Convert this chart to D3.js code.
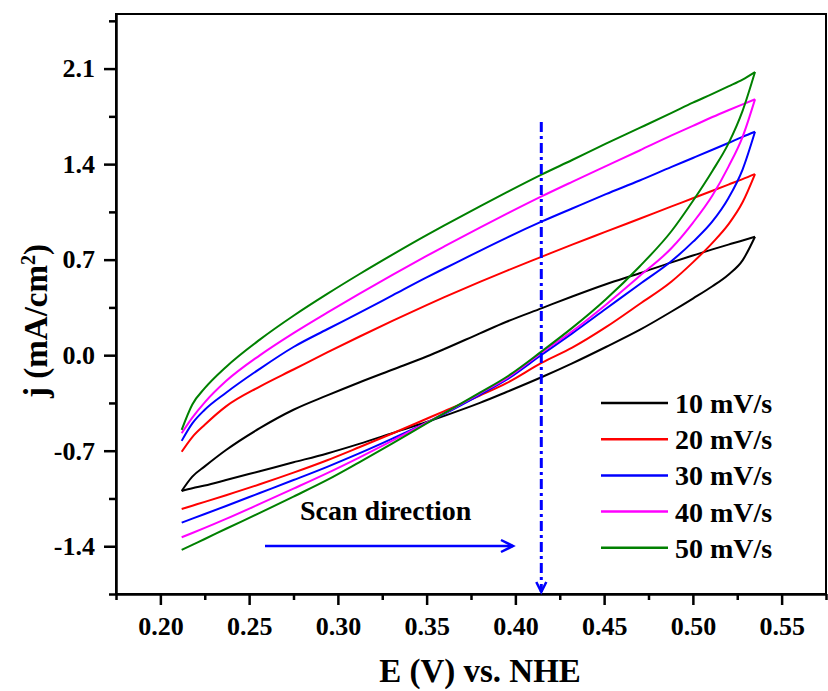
<!DOCTYPE html>
<html>
<head>
<meta charset="utf-8">
<script src="https://cdn.jsdelivr.net/npm/d3@7"></script>
<style>
  body { margin: 0; background: #fff; }
  text { font-family: "Liberation Serif", "Times New Roman", serif; font-weight: bold; }
</style>
</head>
<body>
<script>
// potential grid (V vs NHE) shared by both branches of every loop
const E = [0.212, 0.218, 0.225, 0.237, 0.256, 0.275, 0.294, 0.312, 0.331, 0.35, 0.36,
           0.38, 0.395, 0.415, 0.432, 0.451, 0.47, 0.488, 0.5, 0.511, 0.52, 0.528, 0.535];

// lower (steep) branch
const lower10 = [-0.995, -0.975, -0.955, -0.915, -0.85, -0.785, -0.72, -0.65, -0.57, -0.49, -0.445,
                 -0.35, -0.27, -0.16, -0.06, 0.06, 0.185, 0.32, 0.415, 0.505, 0.59, 0.695, 0.868];
const lower20 = [-1.127, -1.103, -1.075, -1.026, -0.946, -0.861, -0.77, -0.675, -0.572, -0.466, -0.41,
                 -0.296, -0.205, -0.055, 0.055, 0.205, 0.375, 0.54, 0.68, 0.823, 0.958, 1.12, 1.327];
const lower30 = [-1.227, -1.198, -1.164, -1.105, -1.01, -0.915, -0.818, -0.72, -0.61, -0.495, -0.43,
                 -0.29, -0.18, 0.005, 0.16, 0.34, 0.52, 0.69, 0.83, 0.98, 1.15, 1.36, 1.637];
const lower40 = [-1.334, -1.303, -1.266, -1.20, -1.09, -0.978, -0.864, -0.75, -0.625, -0.495, -0.425,
                 -0.28, -0.17, 0.02, 0.175, 0.37, 0.58, 0.785, 0.97, 1.17, 1.38, 1.60, 1.875];
const lower50 = [-1.427, -1.39, -1.347, -1.272, -1.156, -1.036, -0.914, -0.785, -0.645, -0.50, -0.425,
                 -0.275, -0.16, 0.03, 0.20, 0.41, 0.65, 0.91, 1.13, 1.35, 1.55, 1.79, 2.075];

// upper (almost linear) branch
const upper10 = [-0.995, -0.89, -0.815, -0.695, -0.535, -0.40, -0.295, -0.20, -0.105, -0.01, 0.045,
                 0.16, 0.245, 0.345, 0.43, 0.52, 0.60, 0.68, 0.73, 0.775, 0.81, 0.84, 0.868];
const upper20 = [-0.708, -0.60, -0.51, -0.375, -0.23, -0.105, 0.02, 0.135, 0.253, 0.367, 0.425,
                 0.537, 0.618, 0.722, 0.81, 0.905, 1.0, 1.09, 1.15, 1.205, 1.25, 1.29, 1.327];
const upper30 = [-0.628, -0.50, -0.40, -0.275, -0.10, 0.06, 0.19, 0.31, 0.44, 0.57, 0.635,
                 0.765, 0.86, 0.98, 1.075, 1.18, 1.28, 1.38, 1.445, 1.505, 1.555, 1.60, 1.637];
const upper40 = [-0.572, -0.458, -0.346, -0.19, -0.001, 0.162, 0.312, 0.449, 0.59, 0.727, 0.797,
                 0.935, 1.035, 1.165, 1.27, 1.385, 1.50, 1.61, 1.68, 1.745, 1.795, 1.838, 1.875];
const upper50 = [-0.547, -0.361, -0.242, -0.086, 0.114, 0.289, 0.449, 0.593, 0.739, 0.88, 0.951,
                 1.091, 1.193, 1.325, 1.43, 1.55, 1.665, 1.775, 1.85, 1.915, 1.97, 2.02, 2.075];

const rates = ["10 mV/s", "20 mV/s", "30 mV/s", "40 mV/s", "50 mV/s"];
const colors = ["#000000", "#ff0000", "#0000ff", "#ff00ff", "#008000"];
const lowers = [lower10, lower20, lower30, lower40, lower50];
const uppers = [upper10, upper20, upper30, upper40, upper50];

const xTicks = [0.20, 0.25, 0.30, 0.35, 0.40, 0.45, 0.50, 0.55];
const xTickLabels = ["0.20", "0.25", "0.30", "0.35", "0.40", "0.45", "0.50", "0.55"];
const xMinor = [0.175, 0.225, 0.275, 0.325, 0.375, 0.425, 0.475, 0.525, 0.575];
const yTicks = [-1.4, -0.7, 0.0, 0.7, 1.4, 2.1];
const yTickLabels = ["-1.4", "-0.7", "0.0", "0.7", "1.4", "2.1"];
const yMinor = [-1.75, -1.05, -0.35, 0.35, 1.05, 1.75, 2.45];

const markerE = 0.4146;   // dash-dot marker

const W = 828, H = 691;
const svg = d3.select("body").append("svg").attr("width", W).attr("height", H);

const x = d3.scaleLinear().domain([0.175, 0.575]).range([116, 826]);
const y = d3.scaleLinear().domain([-1.75, 2.5]).range([594, 14]);

// frame
svg.append("rect")
  .attr("x", x.range()[0]).attr("y", y.range()[1])
  .attr("width", x.range()[1] - x.range()[0]).attr("height", y.range()[0] - y.range()[1])
  .attr("fill", "none").attr("stroke", "#000").attr("stroke-width", 2);

// axes (ticks outward)
function styleAxis(g) {
  g.select(".domain").attr("stroke-width", 2.5);
  g.selectAll(".tick line").attr("stroke-width", 2.5);
  g.selectAll("text").attr("fill", "#000").style("font-size", "26px")
    .style("font-family", "'Liberation Serif', serif").style("font-weight", "bold");
}
const xAxis = svg.append("g").attr("transform", `translate(0,${y.range()[0]})`)
  .call(d3.axisBottom(x).tickValues(xTicks).tickSize(11).tickPadding(12)
        .tickFormat((d, i) => xTickLabels[i]).tickSizeOuter(0));
styleAxis(xAxis);
svg.append("g").attr("transform", `translate(0,${y.range()[0]})`)
  .call(d3.axisBottom(x).tickValues(xMinor).tickSize(6).tickFormat("").tickSizeOuter(0))
  .call(g => { g.select(".domain").remove(); g.selectAll("line").attr("stroke-width", 2.5); });

const yAxis = svg.append("g").attr("transform", `translate(${x.range()[0]},0)`)
  .call(d3.axisLeft(y).tickValues(yTicks).tickSize(12).tickPadding(9)
        .tickFormat((d, i) => yTickLabels[i]).tickSizeOuter(0));
styleAxis(yAxis);
svg.append("g").attr("transform", `translate(${x.range()[0]},0)`)
  .call(d3.axisLeft(y).tickValues(yMinor).tickSize(7).tickFormat("").tickSizeOuter(0))
  .call(g => { g.select(".domain").remove(); g.selectAll("line").attr("stroke-width", 2.5); });

// CV loops
const line = d3.line().x(d => x(d[0])).y(d => y(d[1])).curve(d3.curveMonotoneX);
rates.forEach((r, i) => {
  [lowers[i], uppers[i]].forEach(branch => {
    svg.append("path")
      .attr("d", line(E.map((e, k) => [e, branch[k]])))
      .attr("fill", "none").attr("stroke", colors[i]).attr("stroke-width", 2);
  });
});

// dash-dot marker with arrow pointing down
const mx = x(markerE);
svg.append("line")
  .attr("x1", mx).attr("x2", mx).attr("y1", 122).attr("y2", y.range()[0] - 2)
  .attr("stroke", "#0000ff").attr("stroke-width", 3).attr("stroke-dasharray", "10,4,3,4");
svg.append("path")
  .attr("d", `M${mx - 5},${y.range()[0] - 12}L${mx},${y.range()[0] - 2}L${mx + 5},${y.range()[0] - 12}`)
  .attr("fill", "none").attr("stroke", "#0000ff").attr("stroke-width", 2.5);

// scan direction arrow
const ay = 546, ax1 = 265, ax2 = 513;
svg.append("line").attr("x1", ax1).attr("x2", ax2).attr("y1", ay).attr("y2", ay)
  .attr("stroke", "#0000ff").attr("stroke-width", 2.5);
svg.append("path")
  .attr("d", `M${ax2 - 12},${ay - 6}L${ax2},${ay}L${ax2 - 12},${ay + 6}`)
  .attr("fill", "none").attr("stroke", "#0000ff").attr("stroke-width", 2.5);
svg.append("text").attr("x", 300).attr("y", 520).style("font-size", "28px").text("Scan direction");

// legend
const legend = svg.append("g");
rates.forEach((r, i) => {
  const ly = 403 + i * 36.2;
  legend.append("line").attr("x1", 601).attr("x2", 668).attr("y1", ly).attr("y2", ly)
    .attr("stroke", colors[i]).attr("stroke-width", 2.5);
  legend.append("text").attr("x", 675).attr("y", ly + 10).style("font-size", "28px").text(r);
});

// axis titles
svg.append("text").attr("x", 480).attr("y", 682).attr("text-anchor", "middle")
  .style("font-size", "33px").text("E (V) vs. NHE");
const yt = svg.append("text").attr("transform", "translate(47,321) rotate(-90)")
  .attr("text-anchor", "middle").style("font-size", "33px");
yt.append("tspan").text("j (mA/cm");
yt.append("tspan").attr("dy", -12).style("font-size", "20px").text("2");
yt.append("tspan").attr("dy", 12).text(")");
</script>
</body>
</html>
